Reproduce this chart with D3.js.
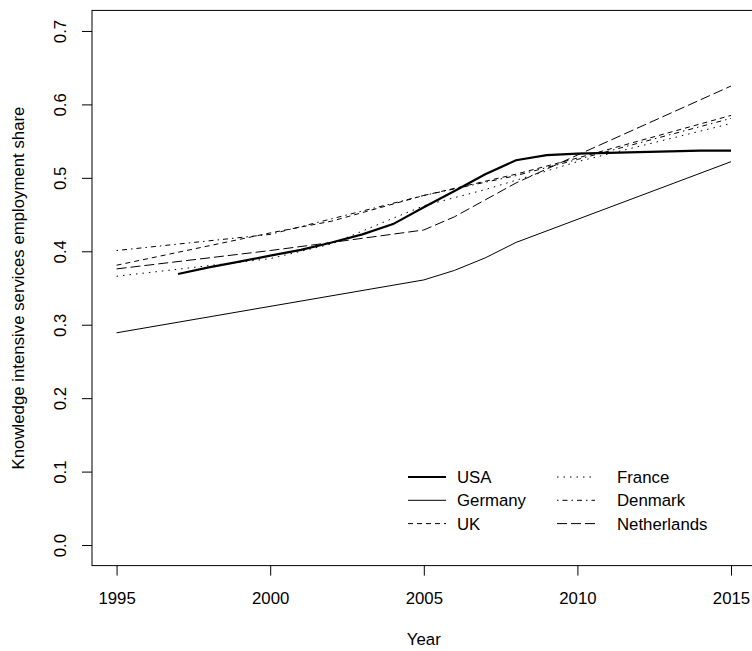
<!DOCTYPE html>
<html>
<head>
<meta charset="utf-8">
<script src="https://cdn.jsdelivr.net/npm/d3@7"></script>
<style>
  body { margin: 0; background: #fff; }
  svg text { font-family: "Liberation Sans", Arial, sans-serif; fill: #000; }
</style>
</head>
<body>
<div id="chart"></div>
<script>
// series values
const usaYears  = [1997, 1998, 1999, 2000, 2001, 2002, 2003, 2004, 2005, 2006, 2007, 2008, 2009, 2010, 2011, 2012, 2013, 2014, 2015];
const usaVals   = [0.369, 0.378, 0.386, 0.394, 0.402, 0.412, 0.423, 0.437, 0.460, 0.482, 0.505, 0.524, 0.531, 0.533, 0.534, 0.535, 0.536, 0.537, 0.537];
const gerYears  = [1995, 2005, 2006, 2007, 2008, 2015];
const gerVals   = [0.289, 0.361, 0.374, 0.391, 0.412, 0.522];
const ukYears   = [1995, 2000, 2002, 2005, 2008, 2010, 2015];
const ukVals    = [0.381, 0.425, 0.441, 0.476, 0.505, 0.527, 0.585];
const fraYears  = [1995, 2000, 2002, 2004, 2005, 2007, 2010, 2015];
const fraVals   = [0.366, 0.390, 0.410, 0.445, 0.462, 0.484, 0.522, 0.574];
const denYears  = [1995, 2000, 2005, 2008, 2010, 2015];
const denVals   = [0.401, 0.423, 0.476, 0.503, 0.525, 0.581];
const nedYears  = [1995, 2000, 2002, 2005, 2006, 2007, 2008, 2010, 2015];
const nedVals   = [0.376, 0.401, 0.412, 0.429, 0.447, 0.470, 0.493, 0.531, 0.625];

const xTicks = [1995, 2000, 2005, 2010, 2015];
const yTicks = [0.0, 0.1, 0.2, 0.3, 0.4, 0.5, 0.6, 0.7];

const series = [
  { name: 'USA',         years: usaYears, vals: usaVals, width: 2.2, dash: null },
  { name: 'Germany',     years: gerYears, vals: gerVals, width: 1,   dash: null },
  { name: 'UK',          years: ukYears,  vals: ukVals,  width: 1,   dash: '5,4' },
  { name: 'France',      years: fraYears, vals: fraVals, width: 1,   dash: '1.5,5' },
  { name: 'Denmark',     years: denYears, vals: denVals, width: 1,   dash: '1.5,4,5,4' },
  { name: 'Netherlands', years: nedYears, vals: nedVals, width: 1,   dash: '10,4' }
];

const W = 752, H = 651;
const FS = 16.8;
const svg = d3.select('#chart').append('svg')
  .attr('width', W).attr('height', H);

// R-style 4% padding around the data range
const x = d3.scaleLinear().domain([1994.2, 2015.8]).range([92, 755.6]);
const y = d3.scaleLinear().domain([-0.028, 0.728]).range([565.6, 10.4]);

const line = d3.line()
  .x(d => x(d[0]))
  .y(d => y(d[1]));

// plot box
svg.append('rect')
  .attr('x', x(1994.2)).attr('y', y(0.728))
  .attr('width', x(2015.8) - x(1994.2))
  .attr('height', y(-0.028) - y(0.728))
  .attr('fill', 'none').attr('stroke', '#000').attr('stroke-width', 1);

// x axis
const xa = svg.append('g').attr('transform', `translate(0,${y(-0.028)})`)
  .call(d3.axisBottom(x).tickValues(xTicks).tickSize(10).tickFormat(d3.format('d')));
xa.select('.domain').remove();
xa.selectAll('.tick text').attr('font-size', FS).attr('dy', null).attr('y', 38.5);

// y axis
const ya = svg.append('g').attr('transform', `translate(${x(1994.2)},0)`)
  .call(d3.axisLeft(y).tickValues(yTicks).tickSize(10).tickFormat(d3.format('.1f')));
ya.select('.domain').remove();
ya.selectAll('.tick text')
  .attr('font-size', FS)
  .attr('x', null).attr('dy', null)
  .attr('text-anchor', 'middle')
  .attr('transform', 'translate(-26,0) rotate(-90)');

// axis titles
svg.append('text')
  .attr('x', (x(1994.2) + x(2015.8)) / 2).attr('y', 644.5)
  .attr('text-anchor', 'middle').attr('font-size', FS)
  .text('Year');
svg.append('text')
  .attr('transform', `translate(24,${(y(-0.028) + y(0.728)) / 2}) rotate(-90)`)
  .attr('text-anchor', 'middle').attr('font-size', FS)
  .text('Knowledge intensive services employment share');

// lines
series.forEach(s => {
  svg.append('path')
    .datum(s.years.map((yr, i) => [yr, s.vals[i]]))
    .attr('d', line)
    .attr('fill', 'none')
    .attr('stroke', '#000')
    .attr('stroke-width', s.width)
    .attr('stroke-dasharray', s.dash);
});

// legend, two columns of three
const legend = svg.append('g');
series.forEach((s, i) => {
  const col = Math.floor(i / 3), row = i % 3;
  const lx = col === 0 ? 408 : 557;
  const ly = 477 + row * 23.3;
  legend.append('line')
    .attr('x1', lx).attr('x2', lx + 38)
    .attr('y1', ly).attr('y2', ly)
    .attr('stroke', '#000')
    .attr('stroke-width', s.width)
    .attr('stroke-dasharray', s.dash);
  legend.append('text')
    .attr('x', col === 0 ? 457 : 617).attr('y', ly + 6)
    .attr('font-size', FS)
    .text(s.name);
});
</script>
</body>
</html>
